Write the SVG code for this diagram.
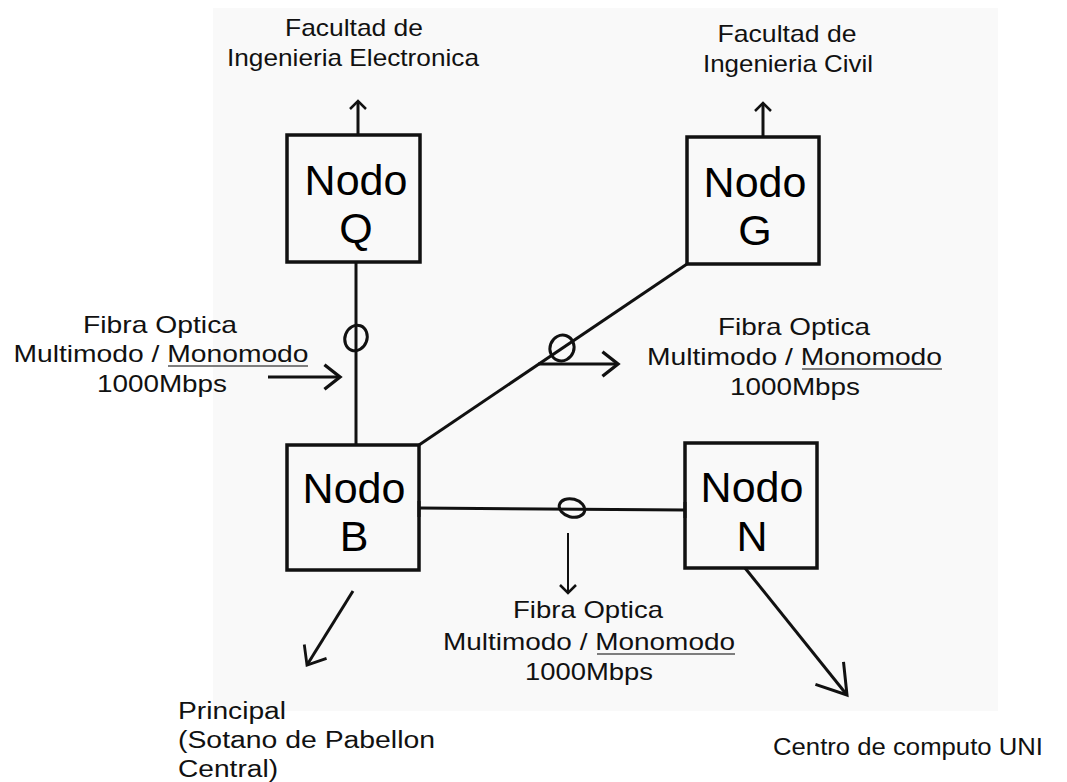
<svg xmlns="http://www.w3.org/2000/svg" width="1067" height="782" viewBox="0 0 1067 782">
<style>
.box{fill:none;stroke:#111;stroke-width:3.5}
.ln{fill:none;stroke:#111;stroke-width:3}
.thin{fill:none;stroke:#111;stroke-width:2}
.ring{fill:none;stroke:#111;stroke-width:3}
.ul{stroke:#555;stroke-width:1.6}
.nt{font-family:"Liberation Sans",Arial,sans-serif;font-size:43px;fill:#000;text-anchor:middle}
.lb{font-family:"Liberation Sans",Arial,sans-serif;font-size:24px;fill:#111;text-anchor:middle}
.lbl{font-family:"Liberation Sans",Arial,sans-serif;font-size:23px;fill:#111}
</style>
<defs>
<marker id="arrS" markerUnits="userSpaceOnUse" orient="auto" refX="0" refY="0" markerWidth="20" markerHeight="20" viewBox="-12 -10 14 20" style="overflow:visible"><path d="M-8,-8 L0,0 L-8,8" fill="none" stroke="#111" stroke-width="2.5"/></marker>
<marker id="arrM" markerUnits="userSpaceOnUse" orient="auto" refX="0" refY="0" markerWidth="20" markerHeight="30" viewBox="-16 -13 18 26" style="overflow:visible"><path d="M-14,-11 L0,0 L-14,11" fill="none" stroke="#111" stroke-width="3"/></marker>
<marker id="arrL" markerUnits="userSpaceOnUse" orient="auto" refX="0" refY="0" markerWidth="20" markerHeight="30" viewBox="-19 -16 21 32" style="overflow:visible"><path d="M-17,-14 L0,0 L-17,14" fill="none" stroke="#111" stroke-width="3"/></marker>
<marker id="arrXL" markerUnits="userSpaceOnUse" orient="auto" refX="0" refY="0" markerWidth="32" markerHeight="40" viewBox="-30 -20 32 40" style="overflow:visible"><path d="M-28,-18 L0,0 L-28,18" fill="none" stroke="#111" stroke-width="3"/></marker>
</defs>
<rect x="0" y="0" width="1067" height="782" fill="#fff"/>
<rect x="213" y="8" width="785" height="703" fill="#f9f9f9"/>

<g id="connectors">
<line class="ln" x1="356" y1="262" x2="356" y2="445"/>
<line class="ln" x1="419" y1="445" x2="687" y2="264"/>
<line class="ln" x1="419" y1="508" x2="685" y2="510"/>
<line class="ln" x1="419" y1="501" x2="419" y2="517"/>
<line class="ln" x1="685" y1="502" x2="685" y2="518"/>
<ellipse class="ring" cx="356" cy="338" rx="11" ry="13" transform="rotate(20 356 338)"/>
<ellipse class="ring" cx="562" cy="348" rx="12" ry="13" transform="rotate(20 562 348)"/>
<ellipse class="ring" cx="572" cy="508" rx="13" ry="9" transform="rotate(15 572 508)"/>
<line class="ln" x1="358" y1="135" x2="358" y2="101" marker-end="url(#arrS)"/>
<line class="ln" x1="763" y1="137" x2="763" y2="103" marker-end="url(#arrS)"/>
<line class="ln" x1="268" y1="377" x2="340" y2="377" marker-end="url(#arrM)"/>
<line class="ln" x1="538" y1="364" x2="618" y2="364" marker-end="url(#arrM)"/>
<line class="thin" x1="568" y1="533" x2="568" y2="593" marker-end="url(#arrS)"/>
<line class="ln" x1="353" y1="591" x2="307" y2="665" marker-end="url(#arrL)"/>
<line class="ln" x1="745" y1="568" x2="847" y2="695" marker-end="url(#arrXL)"/>
</g>

<g id="nodo-q">
<rect class="box" x="287" y="135" width="133" height="127"/>
<text class="nt" x="356" y="195">Nodo</text>
<text class="nt" x="356" y="243">Q</text>
</g>
<g id="nodo-g">
<rect class="box" x="687" y="137" width="132" height="127"/>
<text class="nt" x="755" y="197">Nodo</text>
<text class="nt" x="755" y="245">G</text>
</g>
<g id="nodo-b">
<rect class="box" x="287" y="445" width="132" height="125"/>
<text class="nt" x="354" y="503">Nodo</text>
<text class="nt" x="354" y="551">B</text>
</g>
<g id="nodo-n">
<rect class="box" x="685" y="443" width="132" height="125"/>
<text class="nt" x="752" y="502">Nodo</text>
<text class="nt" x="752" y="551">N</text>
</g>

<g id="label-fie">
<text class="lb" x="354" y="36" textLength="138" lengthAdjust="spacingAndGlyphs">Facultad de</text>
<text class="lb" x="353" y="66" textLength="252" lengthAdjust="spacingAndGlyphs">Ingenieria Electronica</text>
</g>
<g id="label-fic">
<text class="lb" x="787" y="42" textLength="139" lengthAdjust="spacingAndGlyphs">Facultad de</text>
<text class="lb" x="788" y="72" textLength="170" lengthAdjust="spacingAndGlyphs">Ingenieria Civil</text>
</g>
<g id="label-fibra-left">
<text class="lb" x="160" y="333" textLength="154" lengthAdjust="spacingAndGlyphs">Fibra Optica</text>
<text class="lb" x="161" y="362" textLength="295" lengthAdjust="spacingAndGlyphs">Multimodo / Monomodo</text>
<text class="lb" x="162" y="392" textLength="130" lengthAdjust="spacingAndGlyphs">1000Mbps</text>
<line class="ul" x1="168" y1="366" x2="308" y2="366"/>
</g>
<g id="label-fibra-right">
<text class="lb" x="794" y="335" textLength="152" lengthAdjust="spacingAndGlyphs">Fibra Optica</text>
<text class="lb" x="794.5" y="365" textLength="295" lengthAdjust="spacingAndGlyphs">Multimodo / Monomodo</text>
<text class="lb" x="795" y="395" textLength="130" lengthAdjust="spacingAndGlyphs">1000Mbps</text>
<line class="ul" x1="802" y1="369" x2="942" y2="369"/>
</g>
<g id="label-fibra-bottom">
<text class="lb" x="588" y="618" textLength="150" lengthAdjust="spacingAndGlyphs">Fibra Optica</text>
<text class="lb" x="589" y="650" textLength="292" lengthAdjust="spacingAndGlyphs">Multimodo / Monomodo</text>
<text class="lb" x="589" y="680" textLength="128" lengthAdjust="spacingAndGlyphs">1000Mbps</text>
<line class="ul" x1="597" y1="654" x2="735" y2="654"/>
</g>
<g id="label-principal">
<text class="lbl" x="178" y="719" textLength="108" lengthAdjust="spacingAndGlyphs">Principal</text>
<text class="lbl" x="178" y="748" textLength="257" lengthAdjust="spacingAndGlyphs">(Sotano de Pabellon</text>
<text class="lbl" x="178" y="777" textLength="100" lengthAdjust="spacingAndGlyphs">Central)</text>
</g>
<g id="label-centro">
<text class="lbl" x="773" y="755" textLength="270" lengthAdjust="spacingAndGlyphs">Centro de computo UNI</text>
</g>
</svg>
